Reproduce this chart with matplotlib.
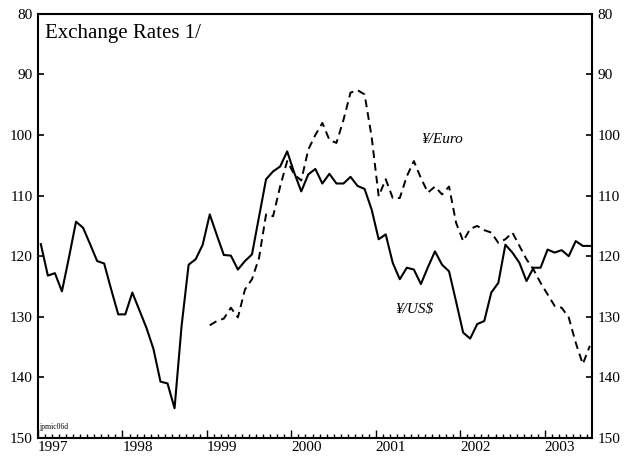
import numpy as np
import matplotlib.pyplot as plt
from matplotlib.ticker import MultipleLocator

plt.rcParams['font.family'] = ['Liberation Serif', 'DejaVu Serif']

# monthly averages, yen per unit
usd_1997 = [118.0, 123.2, 122.8, 125.8, 120.2, 114.3, 115.3, 118.0, 120.8, 121.2, 125.5, 129.6]
usd_1998 = [129.6, 126.0, 128.9, 131.8, 135.3, 140.7, 141.0, 145.1, 131.5, 121.4, 120.5, 118.1]
usd_1999 = [113.1, 116.5, 119.8, 119.9, 122.2, 120.8, 119.7, 113.5, 107.3, 106.0, 105.2, 102.7]
usd_2000 = [106.2, 109.3, 106.5, 105.6, 108.0, 106.4, 108.0, 108.0, 106.9, 108.4, 108.9, 112.3]
usd_2001 = [117.2, 116.4, 121.1, 123.8, 121.9, 122.2, 124.6, 121.8, 119.2, 121.4, 122.5, 127.5]
usd_2002 = [132.6, 133.6, 131.2, 130.7, 126.0, 124.4, 118.1, 119.4, 121.1, 124.1, 121.9, 121.9]
usd_2003 = [118.9, 119.4, 119.0, 120.0, 117.5, 118.3, 118.3]

euro_1999 = [131.4, 130.7, 130.3, 128.5, 130.1, 125.5, 123.8, 120.3, 113.1, 113.4, 108.5, 104.3]
euro_2000 = [106.5, 107.5, 102.4, 100.0, 98.0, 100.8, 101.3, 97.5, 93.0, 92.6, 93.3, 100.3]
euro_2001 = [110.1, 107.3, 110.4, 110.4, 106.8, 104.3, 107.1, 109.5, 108.5, 109.8, 108.5, 114.5]
euro_2002 = [117.5, 115.5, 115.0, 115.7, 116.1, 117.8, 117.2, 116.1, 118.3, 120.5, 122.2, 124.4]
euro_2003 = [126.3, 128.2, 128.5, 130.1, 134.3, 137.8, 134.8]

years = [1997, 1998, 1999, 2000, 2001, 2002, 2003]

usd = usd_1997 + usd_1998 + usd_1999 + usd_2000 + usd_2001 + usd_2002 + usd_2003
euro = euro_1999 + euro_2000 + euro_2001 + euro_2002 + euro_2003

# month index -> decimal year (points sit a little into each month)
t_usd = 1997 + (np.arange(len(usd)) + 0.4) / 12
t_euro = 1999 + (np.arange(len(euro)) + 0.4) / 12

fig = plt.figure(figsize=(6.25, 4.62), dpi=100)
ax = fig.add_axes([0.0608, 0.052, 0.886, 0.918])

ax.plot(t_usd, usd, color='black', lw=1.5)
ax.plot(t_euro, euro, color='black', lw=1.4, linestyle=(0, (4, 2.6)))

ax.set_xlim(1997, 2003.556)
ax.set_ylim(150, 80)
ax.set_yticks(range(80, 151, 10))
ax.set_xticks(years)
ax.set_xticklabels([str(y) for y in years], ha='left')
ax.xaxis.set_minor_locator(MultipleLocator(1 / 12))

ax.tick_params(axis='y', direction='in', left=True, right=True,
               labelleft=True, labelright=True, length=4, width=1.2,
               labelsize=11, pad=4)
ax.tick_params(axis='x', which='major', direction='in', length=6, width=1.0,
               labelsize=11, pad=2)
ax.tick_params(axis='x', which='minor', direction='in', length=3, width=1.0)

for s in ax.spines.values():
    s.set_linewidth(1.5)

ax.text(0.012, 0.943, 'Exchange Rates 1/', transform=ax.transAxes,
        fontsize=15, va='baseline', ha='left')
ax.text(0.002, 0.021, 'jpmic06d', transform=ax.transAxes,
        fontsize=5.5, va='baseline', ha='left')

ax.text(2001.78, 100.8, '\u00a5/Euro', fontsize=11, style='italic',
        ha='center', va='center')
ax.text(2001.46, 128.8, '\u00a5/US$', fontsize=11, style='italic',
        ha='center', va='center')

fig.savefig('out.png', dpi=100)
